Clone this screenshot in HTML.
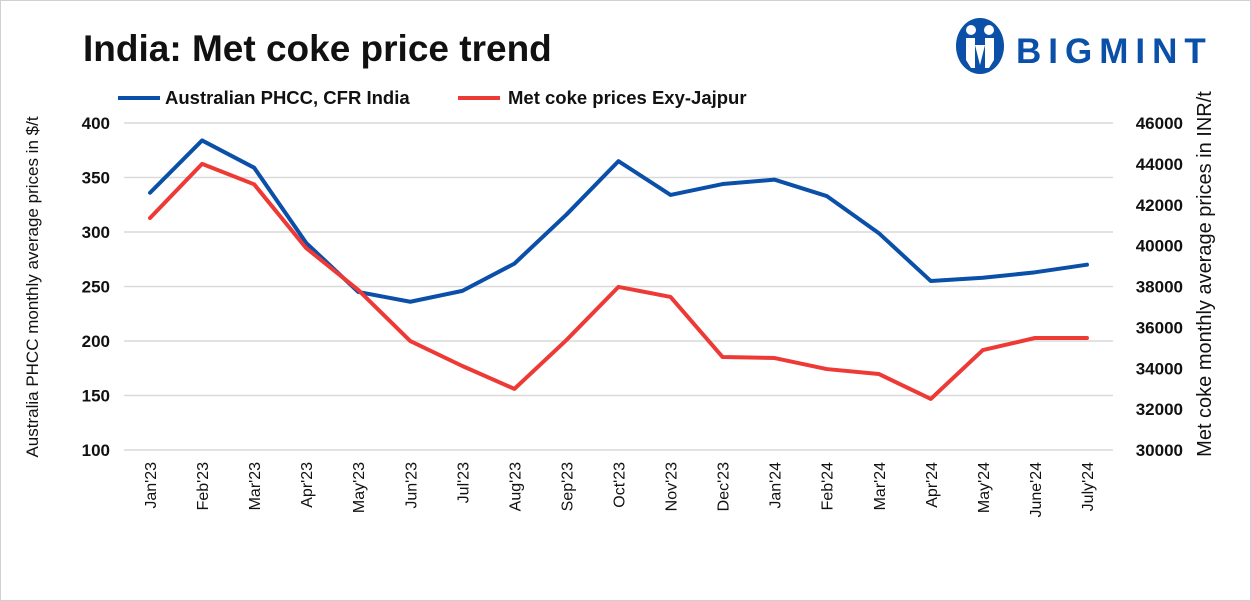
<!DOCTYPE html>
<html><head><meta charset="utf-8"><style>
body{margin:0;background:#fff;}
svg{display:block;font-family:"Liberation Sans",Arial,sans-serif;}
</style></head><body>
<svg id="c" width="1251" height="601" viewBox="0 0 1251 601">
<rect x="0.5" y="0.5" width="1250" height="600" fill="#fff" stroke="#d0d0d0"/>
<text x="83" y="61" font-size="37" font-weight="bold" fill="#111">India: Met coke price trend</text>
<g>
<ellipse cx="980" cy="46" rx="24" ry="28" fill="#0a4fa8"/>
<circle cx="971" cy="30" r="5" fill="#fff"/><circle cx="989" cy="30" r="5" fill="#fff"/>
<path d="M966 38 h9 v30 h-4 l-5-8z M985 38 h9 v22 l-5 8 h-4z M975 45 l5 20 l5-20" fill="#fff"/>
<text x="1016" y="63" font-size="35" font-weight="bold" fill="#0a4fa8" letter-spacing="7">BIGMINT</text>
</g>
<g id="legend">
<line x1="118" y1="98" x2="160" y2="98" stroke="#0a4fa8" stroke-width="4"/>
<text x="165" y="104" font-size="18.5" font-weight="bold" fill="#111">Australian PHCC, CFR India</text>
<line x1="458" y1="98" x2="500" y2="98" stroke="#ee3a36" stroke-width="4"/>
<text x="508" y="104" font-size="18.5" font-weight="bold" fill="#111">Met coke prices Exy-Jajpur</text>
</g>
<g id="grid"></g><g id="lax"></g><g id="rax"></g><g id="xax"></g><g id="series"></g>
<text transform="translate(38,287) rotate(-90)" text-anchor="middle" font-size="17" fill="#111">Australia PHCC monthly average prices in $/t</text>
<text transform="translate(1211,274) rotate(-90)" text-anchor="middle" font-size="20" fill="#111">Met coke monthly average prices in INR/t</text>
</svg>
<script>
const categories=["Jan'23","Feb'23","Mar'23","Apr'23","May'23","Jun'23","Jul'23","Aug'23","Sep'23","Oct'23","Nov'23","Dec'23","Jan'24","Feb'24","Mar'24","Apr'24","May'24","June'24","July'24"];
const phccValues=[336,384,359,290,245,236,246,271,316,365,334,344,348,333,299,255,258,263,270];
const metCokeValues=[41350,44000,43000,39880,37830,35330,34110,32990,35380,37980,37490,34550,34500,33960,33720,32500,34890,35480,35480];
const leftTicks=[100,150,200,250,300,350,400];
const rightTicks=[30000,32000,34000,36000,38000,40000,42000,44000,46000];
const NS="http://www.w3.org/2000/svg";
const X0=124,X1=1113,YT=123,YB=450;
const step=(X1-X0)/categories.length;
const x=i=>X0+step*(i+0.5);
const yL=v=>YB-(v-100)/300*(YB-YT);
const yR=v=>YB-(v-30000)/16000*(YB-YT);
function mk(tag,attrs,parent,txt){const e=document.createElementNS(NS,tag);for(const k in attrs)e.setAttribute(k,attrs[k]);if(txt!=null)e.textContent=txt;document.getElementById(parent).appendChild(e);return e;}
leftTicks.forEach(t=>{
 const g=mk("line",{x1:X0,x2:X1,y1:yL(t),y2:yL(t),stroke:"#d9d9d9","stroke-width":1.5},"grid");
 
 
 const l=mk("text",{x:110,y:yL(t)+6,"text-anchor":"end","font-size":17,"font-weight":"bold",fill:"#111"},"lax",t);
 
 
});
rightTicks.forEach(t=>{
 const l=mk("text",{x:1183,y:yR(t)+6,"text-anchor":"end","font-size":17,"font-weight":"bold",fill:"#111"},"rax",t);
 
 
});
categories.forEach((c,i)=>{
 const l=mk("text",{transform:`translate(${x(i)+6},462) rotate(-90)`,"text-anchor":"end","font-size":16,fill:"#111"},"xax",c);
 
 
});
const p1=mk("polyline",{points:phccValues.map((v,i)=>x(i)+","+yL(v)).join(" "),fill:"none",stroke:"#0a4fa8","stroke-width":4,"stroke-linejoin":"round","stroke-linecap":"round"},"series");


const p2=mk("polyline",{points:metCokeValues.map((v,i)=>x(i)+","+yR(v)).join(" "),fill:"none",stroke:"#ee3a36","stroke-width":4,"stroke-linejoin":"round","stroke-linecap":"round"},"series");


</script>
</body></html>
